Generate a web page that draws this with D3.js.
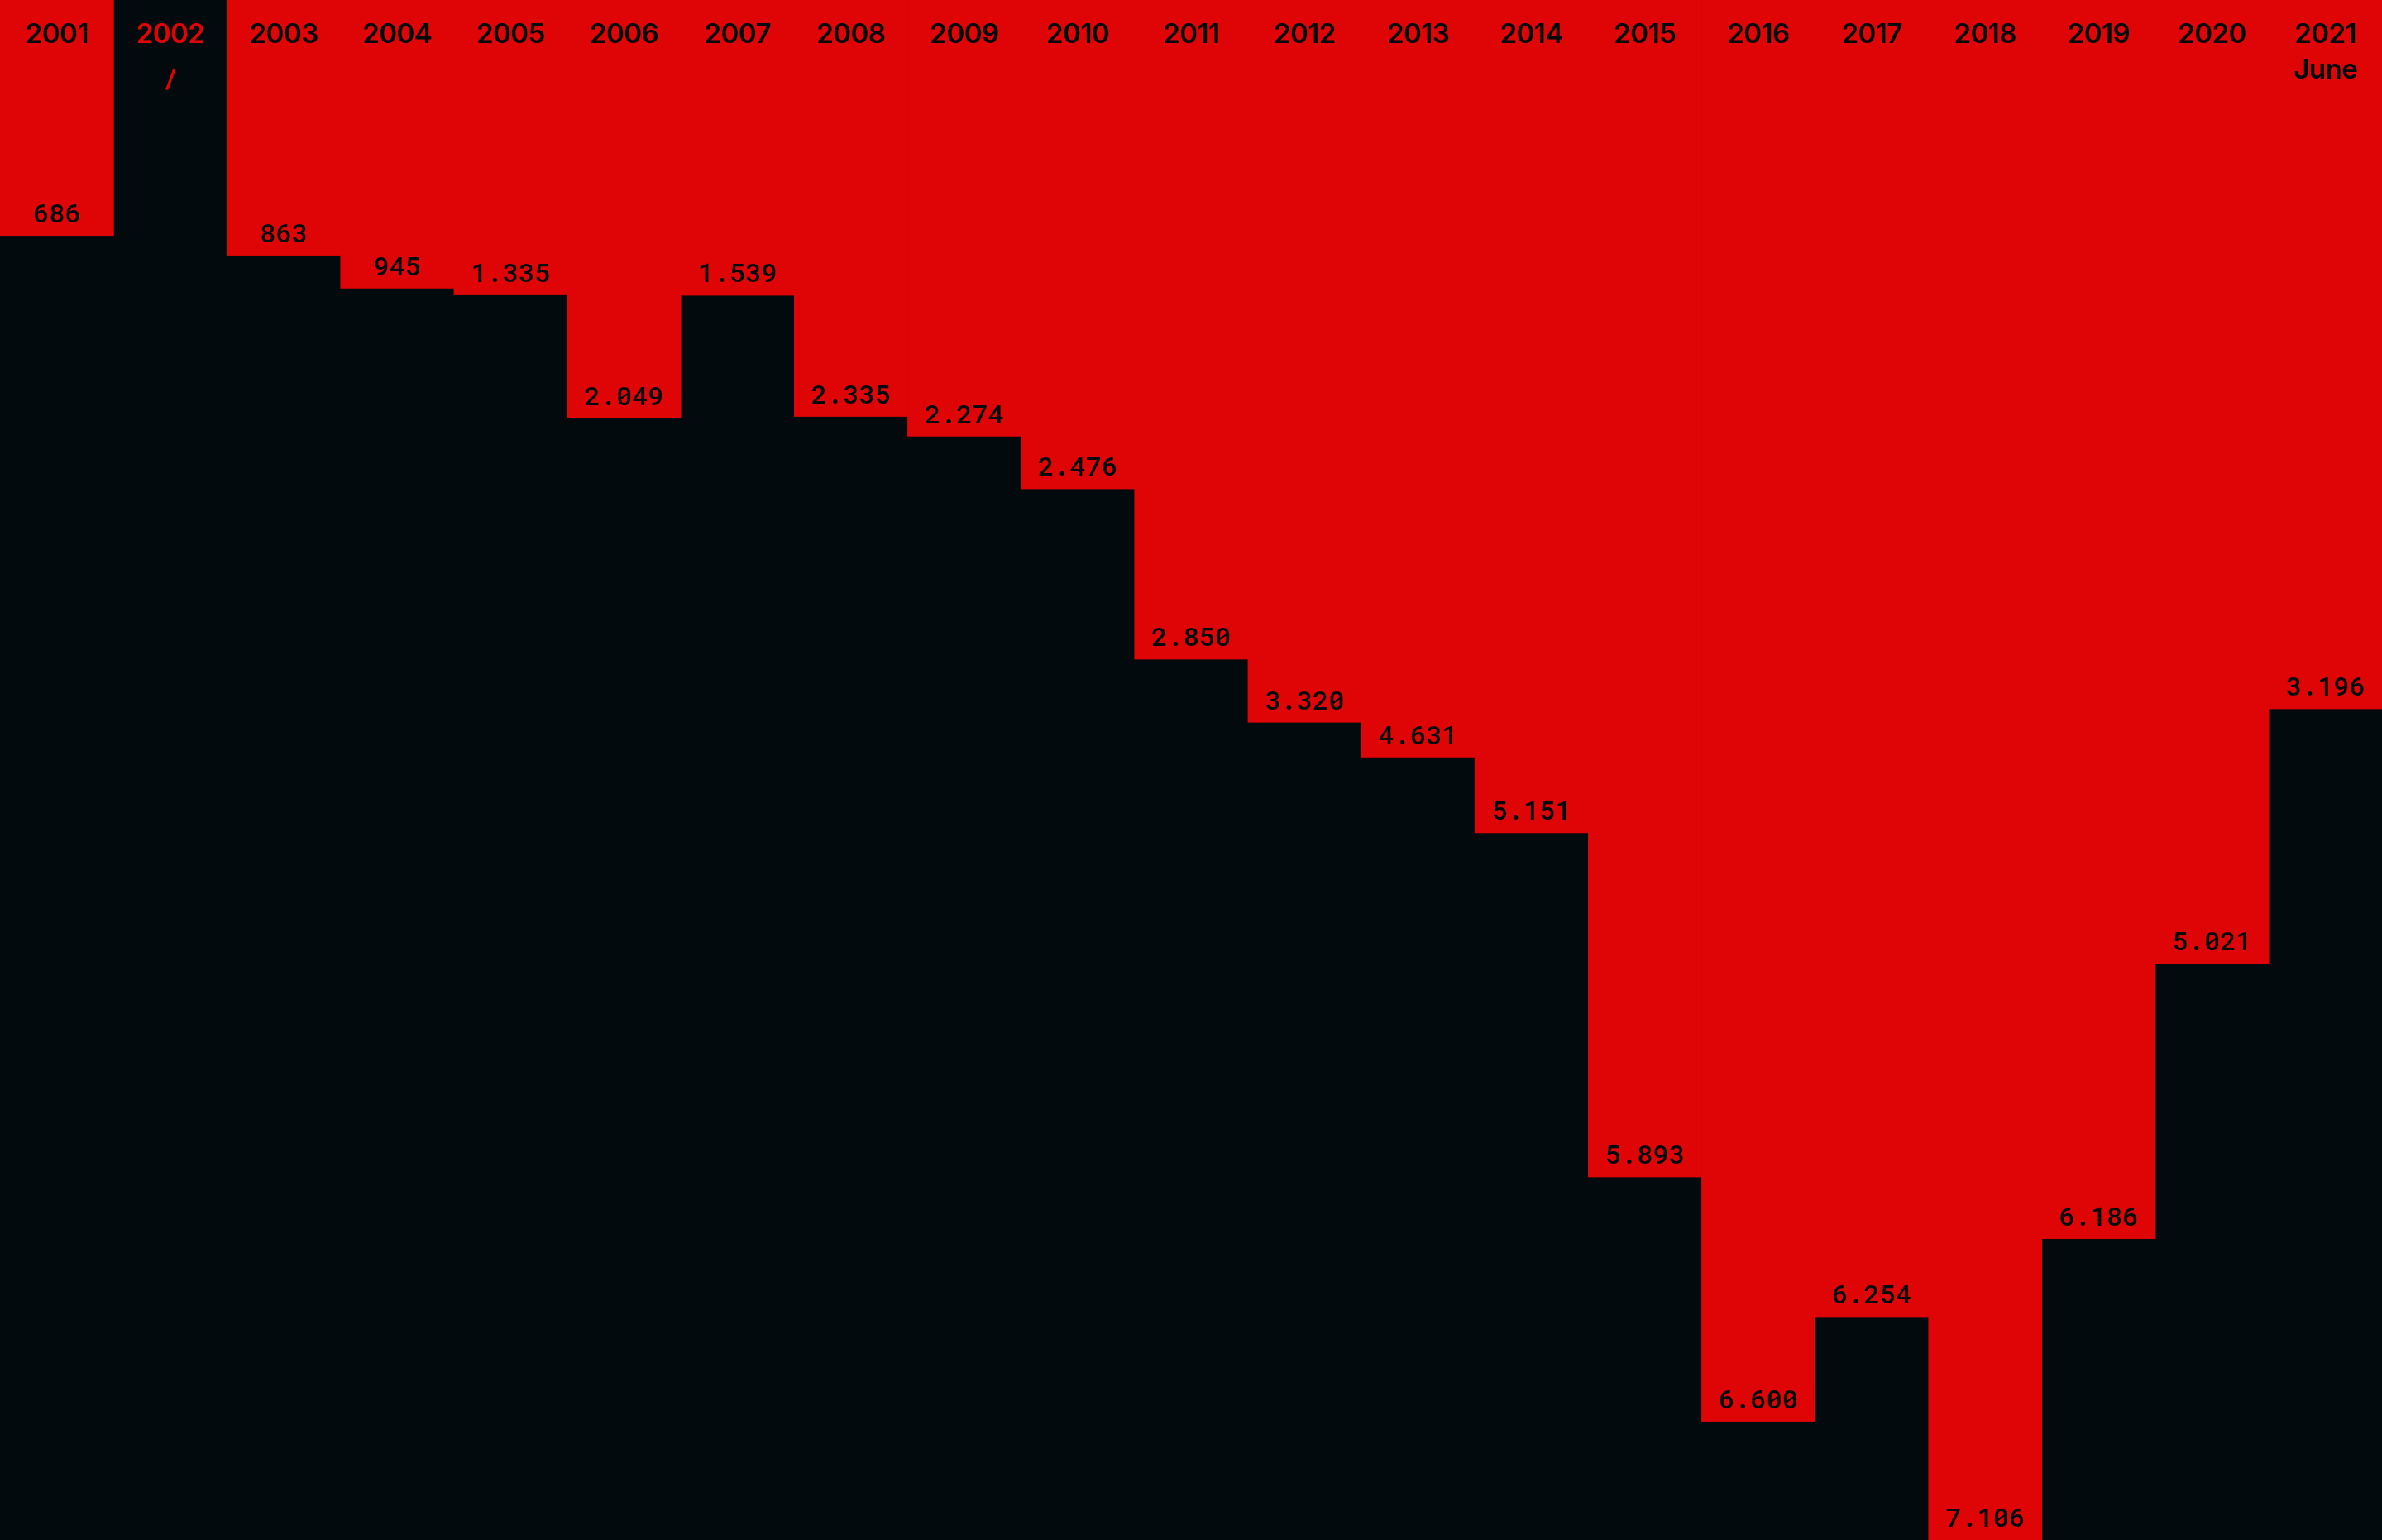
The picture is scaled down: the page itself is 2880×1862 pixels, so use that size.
<!DOCTYPE html>
<html>
<head>
<meta charset="utf-8">
<script src="https://cdn.jsdelivr.net/npm/d3@7"></script>
<style>
  html, body { margin: 0; padding: 0; background: #030a0d; }
  svg { display: block; }
</style>
</head>
<body>
<svg id="chart"></svg>
<script>
// ---- data ----
const categories = ["2001","2002","2003","2004","2005","2006","2007","2008","2009","2010",
                    "2011","2012","2013","2014","2015","2016","2017","2018","2019","2020","2021"];
const subLabels  = ["","","","","","","","","","","","","","","","","","","","","June"];
// stated values (labels); null = no data ("/")
const values     = [686, null, 863, 945, 1335, 2049, 1539, 2335, 2274, 2476,
                    2850, 3320, 4631, 5151, 5893, 6600, 6254, 7106, 6186, 5021, 3196];
const drawnDepth = [1088, 0, 1179, 1331, 1362, 1931, 1364, 1923, 2014, 2257,
                    3043, 3334, 3495, 3844, 5432, 6560, 6077, 7106, 5717, 4446, 3272];
const missingMark = "/";

// ---- layout ----
const W = 2880, H = 1862;
const RED = "#df0506", INK = "#030a0d";

const svg = d3.select("#chart").attr("width", W).attr("height", H);
svg.append("rect").attr("width", W).attr("height", H).attr("fill", INK);

const x = d3.scaleBand().domain(categories).range([0, W]).paddingInner(0).paddingOuter(0);
const y = d3.scaleLinear().domain([0, d3.max(drawnDepth)]).range([0, H]);

const fmt = d3.formatLocale({decimal: ",", thousands: ".", grouping: [3], currency: ["", ""]}).format(",d");

const rows = categories.map((c, i) => ({cat: c, sub: subLabels[i], value: values[i], depth: drawnDepth[i]}));

// red bars hanging from the top
svg.append("g").selectAll("rect")
  .data(rows.filter(d => d.value !== null))
  .join("rect")
  .attr("x", d => x(d.cat))
  .attr("y", 0)
  .attr("width", x.bandwidth() + 0.6)
  .attr("height", d => y(d.depth))
  .attr("fill", RED);

// year labels
const yearG = svg.append("g")
  .attr("font-family", "Inter, 'Liberation Sans', Arial, sans-serif")
  .attr("font-weight", 600)
  .attr("font-size", 33)
  .attr("text-anchor", "middle");

yearG.selectAll("text.year")
  .data(rows)
  .join("text")
  .attr("class", "year")
  .attr("x", d => x(d.cat) + x.bandwidth() / 2)
  .attr("y", 52)
  .attr("fill", d => d.value === null ? RED : INK)
  .attr("letter-spacing", -0.5)
  .text(d => d.cat);

yearG.selectAll("text.sub")
  .data(rows.filter(d => d.sub))
  .join("text")
  .attr("class", "sub")
  .attr("x", d => x(d.cat) + x.bandwidth() / 2)
  .attr("y", 95)
  .attr("fill", INK)
  .attr("letter-spacing", -0.5)
  .text(d => d.sub);

// value labels
const valG = svg.append("g")
  .attr("font-family", "'Roboto Mono', 'DejaVu Sans Mono', 'Liberation Mono', monospace")
  .attr("font-size", 32)
  .attr("font-weight", 500)
  .attr("text-anchor", "middle");

valG.selectAll("text.val")
  .data(rows.filter(d => d.value !== null))
  .join("text")
  .attr("class", "val")
  .attr("x", d => x(d.cat) + x.bandwidth() / 2)
  .attr("y", d => y(d.depth) - 16)
  .attr("fill", INK)
  .text(d => fmt(d.value));

valG.selectAll("text.miss")
  .data(rows.filter(d => d.value === null))
  .join("text")
  .attr("class", "miss")
  .attr("x", d => x(d.cat) + x.bandwidth() / 2)
  .attr("y", 106)
  .attr("fill", RED)
  .text(missingMark);
</script>
</body>
</html>
